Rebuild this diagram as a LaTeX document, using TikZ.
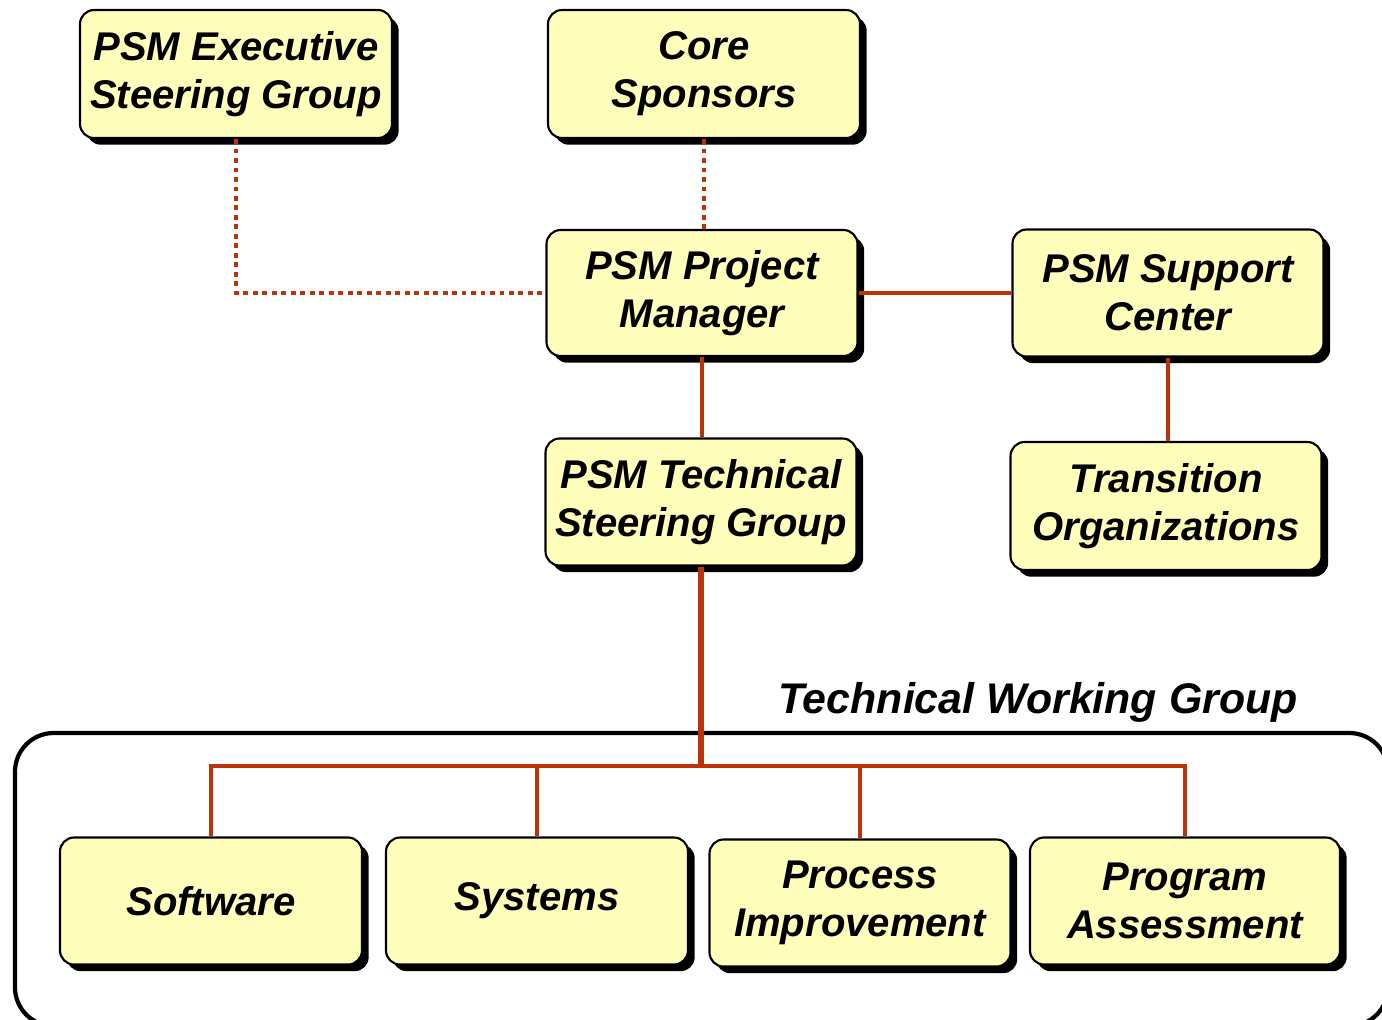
\documentclass[tikz,border=0pt]{standalone}
\usepackage{fontspec}
\setmainfont{Liberation Sans}
\usepackage{xcolor}
\usetikzlibrary{shadows}

\definecolor{boxfill}{RGB}{255,255,187}
\definecolor{linkred}{RGB}{185,52,8}

\begin{document}
\begin{tikzpicture}[x=0.02cm,y=-0.02cm,
    orgbox/.style={draw=black, line width=1.2pt, fill=boxfill, rounded corners=8pt,
        align=center, inner sep=0pt,
        font=\fontsize{22.8}{27.3}\selectfont\bfseries\itshape,
        drop shadow={shadow xshift=3.8pt, shadow yshift=-3.8pt, fill=black, opacity=1}},
    link/.style={draw=linkred, line width=2.7pt},
    trunk/.style={draw=linkred, line width=3.9pt},
    dotlink/.style={draw=linkred, line width=2.8pt, dash pattern=on 2.8pt off 2.6pt},
    group/.style={draw=black, line width=2.4pt, rounded corners=22pt}]
                \useasboundingbox (0,0) rectangle (1382,1019);
                % working group frame
                \draw[group] (15,733) rectangle (1388,1026);
                \node[font=\fontsize{24.4}{29}\selectfont\bfseries\itshape] (twglabel) at (1038,702) {Technical Working Group};
                % boxes
                \node[orgbox, minimum width=312*0.02cm, minimum height=128*0.02cm] (exec) at (236,74) {PSM Executive\\Steering Group};
                \node[orgbox, minimum width=312*0.02cm, minimum height=128*0.02cm] (core) at (704,74) {Core\\Sponsors};
                \node[orgbox, minimum width=311*0.02cm, minimum height=126*0.02cm] (pm) at (702,293) {PSM Project\\Manager};
                \node[orgbox, minimum width=311*0.02cm, minimum height=127*0.02cm] (sc) at (1168,293) {PSM Support\\Center};
                \node[orgbox, minimum width=311*0.02cm, minimum height=127*0.02cm] (tsg) at (701,502) {PSM Technical\\Steering Group};
                \node[orgbox, minimum width=311*0.02cm, minimum height=128*0.02cm] (trans) at (1166,506) {Transition\\Organizations};
                \node[orgbox, minimum width=302*0.02cm, minimum height=127*0.02cm] (sw) at (211,901) {Software};
                \node[orgbox, minimum width=302*0.02cm, minimum height=127*0.02cm] (sys) at (537,901) {Systems};
                \node[orgbox, minimum width=301*0.02cm, minimum height=127*0.02cm] (pi) at (860,903) {Process\\Improvement};
                \node[orgbox, minimum width=310*0.02cm, minimum height=127*0.02cm] (pa) at (1185,901) {Program\\Assessment};
                % connectors
                \draw[dotlink] (exec.south) |- (pm.west);
                \draw[dotlink] (core.south) -- (core.south |- pm.north);
                \draw[link] (pm.east) -- (sc.west);
                \draw[link] (sc.south) -- (sc.south |- trans.north);
                \draw[link] (pm.south) -- (pm.south |- tsg.north);
                \coordinate (bus) at (701,766);
                \draw[trunk] (tsg.south) -- (bus);
                \foreach \b in {sw,sys,pi,pa}
                    \draw[link] (\b.north) |- (bus);
            \end{tikzpicture}
\end{document}
